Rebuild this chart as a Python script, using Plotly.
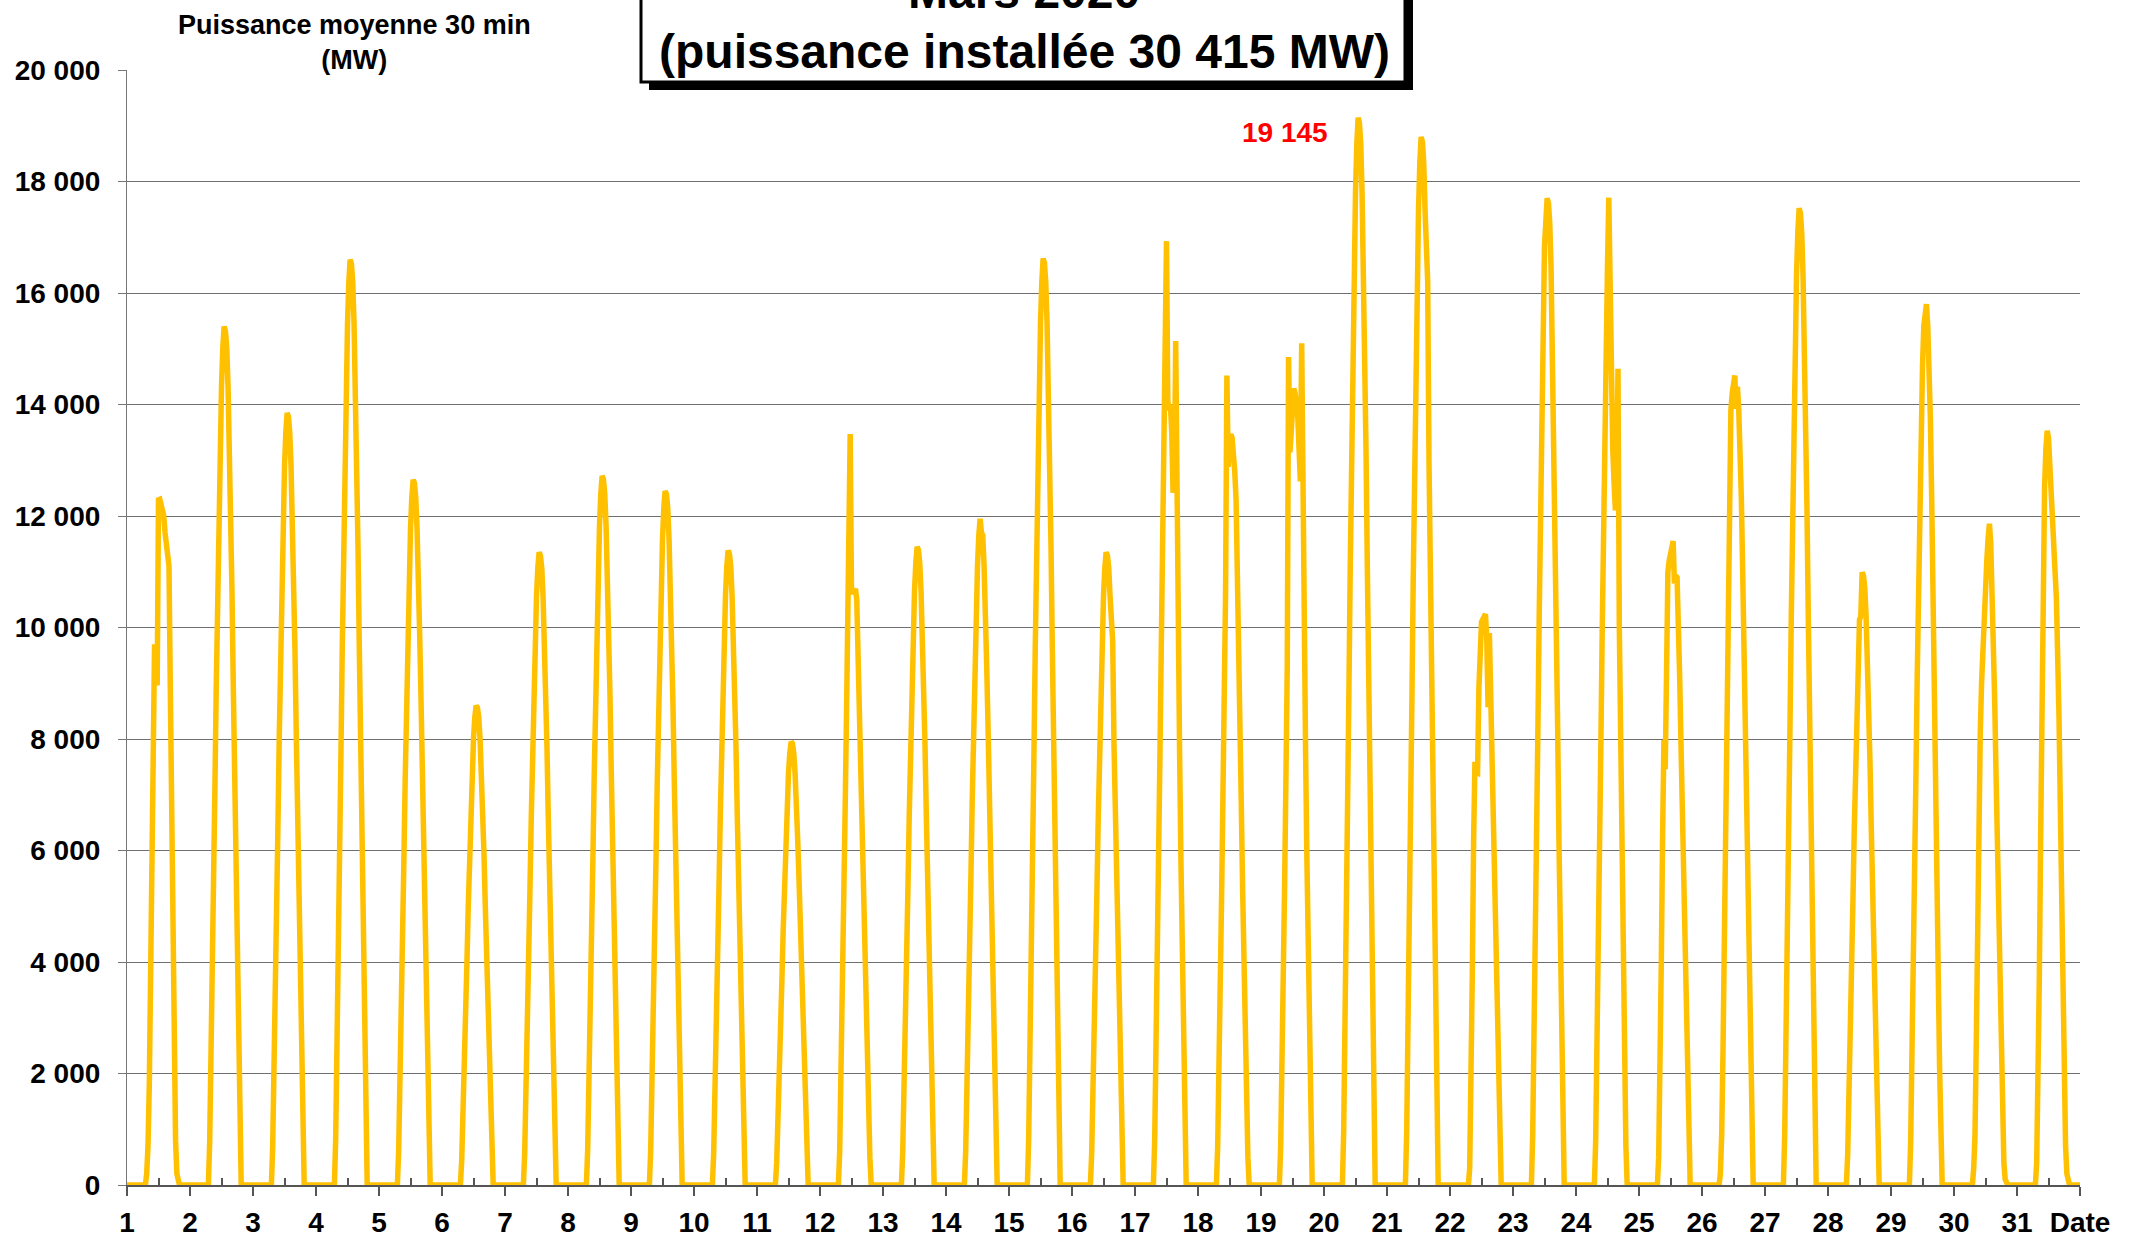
import plotly.graph_objects as go

# ---------------- data (MW, 30-min average) ----------------
# half-hour slots covered by the daytime lists (hour of day); all other slots are 0 (night)
SLOT_HOURS = [6.5, 7.0, 7.5, 8.0, 8.5, 9.0, 9.5, 10.0, 10.5, 11.0, 11.5, 12.0, 12.5, 13.0,
              13.5, 14.0, 14.5, 15.0, 15.5, 16.0, 16.5, 17.0, 17.5, 18.0, 18.5, 19.0, 19.5, 20.0]

d01 = [0, 0, 200, 700, 1800, 3800, 6500, 9700, 9700, 9300, 8960, 12290, 12300, 12200, 12100, 12000, 11700, 11400, 11180, 11100, 8900, 6300, 3900, 2000, 800, 200, 0, 0]
d02 = [0, 0, 770, 2080, 3700, 5390, 7160, 8930, 10630, 12010, 13400, 14320, 15020, 15400, 15320, 15020, 14320, 13400, 12010, 10630, 8930, 7160, 5390, 3700, 2080, 770, 0, 0]
d03 = [0, 0, 690, 1870, 3320, 4850, 6440, 8030, 9560, 10800, 12050, 12880, 13500, 13850, 13780, 13500, 12880, 12050, 10800, 9560, 8030, 6440, 4850, 3320, 1870, 690, 0, 0]
d04 = [0, 0, 830, 2240, 3980, 5810, 7720, 9630, 11450, 12950, 14440, 15440, 16190, 16600, 16520, 16190, 15440, 14440, 12950, 11450, 9630, 7720, 5810, 3980, 2240, 830, 0, 0]
d05 = [0, 0, 630, 1710, 3040, 4430, 5880, 7340, 8730, 9870, 11010, 11760, 12330, 12650, 12590, 12330, 11760, 11010, 9870, 8730, 7340, 5880, 4430, 3040, 1710, 630, 0, 0]
d06 = [0, 0, 430, 1160, 2060, 3010, 4000, 4990, 5930, 6710, 7480, 8000, 8390, 8600, 8560, 8390, 8000, 7480, 6710, 5930, 4990, 4000, 3010, 2060, 1160, 430, 0, 0]
d07 = [0, 0, 570, 1530, 2720, 3970, 5280, 6580, 7830, 8850, 9870, 10560, 11070, 11350, 11290, 11070, 10560, 9870, 8850, 7830, 6580, 5280, 3970, 2720, 1530, 570, 0, 0]
d08 = [0, 0, 640, 1720, 3050, 4450, 5910, 7380, 8780, 9920, 11070, 11830, 12400, 12720, 12660, 12400, 11830, 11070, 9920, 8780, 7380, 5910, 4450, 3050, 1720, 640, 0, 0]
d09 = [0, 0, 620, 1680, 2990, 4360, 5790, 7220, 8590, 9710, 10830, 11580, 12140, 12450, 12390, 12140, 11580, 10830, 9710, 8590, 7220, 5790, 4360, 2990, 1680, 620, 0, 0]
d10 = [0, 0, 570, 1540, 2730, 3980, 5290, 6600, 7850, 8880, 9900, 10580, 11100, 11380, 11320, 11100, 10580, 9900, 8880, 7850, 6600, 5290, 3980, 2730, 1540, 570, 0, 0]
d11 = [0, 0, 400, 1070, 1910, 2780, 3700, 4610, 5490, 6200, 6920, 7390, 7750, 7950, 7920, 7750, 7390, 6920, 6200, 5490, 4610, 3700, 2780, 1910, 1070, 400, 0, 0]
d12 = [0, 0, 600, 1800, 3300, 4900, 6500, 8100, 9700, 11200, 13470, 10600, 10700, 10600, 10700, 10500, 9420, 9300, 8300, 7300, 6100, 4900, 3700, 2500, 1400, 500, 0, 0]
d13 = [0, 0, 570, 1550, 2750, 4010, 5320, 6640, 7900, 8930, 9960, 10650, 11160, 11450, 11390, 11160, 10650, 9960, 8930, 7900, 6640, 5320, 4010, 2750, 1550, 570, 0, 0]
d14 = [0, 0, 600, 1610, 2870, 4180, 5560, 6930, 8250, 9320, 10400, 11110, 11650, 11950, 11700, 11650, 11110, 10400, 9320, 8250, 6930, 5560, 4180, 2870, 1610, 600, 0, 0]
d15 = [0, 0, 830, 2240, 3990, 5820, 7730, 9640, 11470, 12960, 14460, 15460, 16200, 16620, 16540, 16200, 15460, 14460, 12960, 11470, 9640, 7730, 5820, 3990, 2240, 830, 0, 0]
d16 = [0, 0, 570, 1530, 2720, 3970, 5280, 6580, 7830, 8850, 9870, 10560, 11070, 11350, 11290, 11070, 10560, 9800, 9750, 7900, 6580, 5280, 3970, 2720, 1530, 570, 0, 0]
d17 = [0, 0, 800, 2200, 4000, 5800, 7700, 9600, 11400, 12900, 14400, 16930, 14060, 13900, 14000, 13500, 12420, 12500, 15140, 11500, 9600, 7700, 5800, 4000, 2200, 800, 0, 0]
d18 = [0, 0, 700, 1900, 3500, 5200, 7000, 8800, 10600, 14520, 12880, 13300, 13470, 13400, 13200, 12800, 12300, 11200, 9800, 8300, 6800, 5300, 3900, 2600, 1400, 500, 0, 0]
d19 = [0, 0, 700, 2000, 3600, 5400, 7300, 9300, 14850, 13140, 13500, 14100, 14290, 14200, 14060, 13800, 13200, 12620, 15100, 11500, 9700, 7700, 5800, 4000, 2200, 800, 0, 0]
d20 = [0, 0, 960, 2580, 4590, 6700, 8900, 11100, 13210, 14930, 16660, 17800, 18670, 19145, 19050, 18670, 17800, 16660, 14930, 13210, 11100, 8900, 6700, 4590, 2580, 960, 0, 0]
d21 = [0, 0, 940, 2540, 4510, 6580, 8740, 10900, 12970, 14660, 16360, 17480, 18330, 18800, 18710, 18330, 17480, 16300, 16200, 12970, 10900, 8740, 6580, 4510, 2540, 940, 0, 0]
d22 = [0, 0, 300, 1500, 3800, 6200, 7590, 7400, 7390, 8900, 10000, 10100, 10150, 10200, 10240, 9800, 8570, 9900, 8800, 7800, 6600, 5300, 4000, 2700, 1500, 600, 0, 0]
d23 = [0, 0, 890, 2390, 4250, 6200, 8230, 10270, 12210, 13810, 15400, 16850, 17260, 17700, 17610, 17260, 16460, 15000, 13810, 12210, 10270, 8230, 6200, 4250, 2390, 890, 0, 0]
d24 = [0, 0, 800, 2300, 4100, 6000, 8000, 10000, 12000, 14000, 16010, 16500, 17710, 15500, 13650, 13200, 12600, 12100, 12400, 14640, 10000, 7900, 5800, 3800, 2000, 700, 0, 0]
d25 = [0, 0, 500, 1800, 4000, 6300, 7980, 7460, 9500, 10990, 11200, 11300, 11400, 11550, 10790, 10920, 10900, 10200, 9100, 7900, 6600, 5200, 3900, 2600, 1400, 500, 0, 0]
d26 = [0, 200, 900, 2400, 4300, 6300, 8300, 10300, 13790, 13900, 14200, 14450, 14520, 13920, 14320, 13900, 13200, 12300, 11000, 9600, 8000, 6300, 4600, 3000, 1600, 600, 0, 0]
d27 = [0, 0, 880, 2370, 4200, 6130, 8150, 10160, 12090, 13670, 15240, 16290, 17080, 17520, 17430, 17080, 16290, 15240, 13670, 12090, 10160, 8150, 6130, 4200, 2370, 880, 0, 0]
d28 = [0, 0, 550, 1480, 2640, 3850, 5110, 6370, 7580, 8570, 9560, 10140, 10200, 10990, 10930, 10720, 10220, 9560, 8570, 7580, 6370, 5110, 3850, 2640, 1480, 550, 0, 0]
d29 = [0, 0, 790, 2130, 3790, 5530, 7350, 9160, 10900, 12320, 13750, 14690, 15410, 15780, 15800, 15410, 14690, 13750, 12320, 10900, 9160, 7350, 5530, 3790, 2130, 790, 0, 0]
d30 = [0, 0, 300, 900, 2600, 4800, 6700, 8100, 9000, 9700, 10200, 10700, 11200, 11600, 11860, 11500, 10800, 9900, 8700, 7400, 6000, 4600, 3300, 2100, 1100, 400, 100, 0]
d31 = [0, 0, 400, 1600, 3700, 6200, 8800, 11000, 12500, 13200, 13530, 13400, 13000, 12500, 12000, 11500, 11000, 10530, 9700, 8400, 6800, 5000, 3300, 1800, 700, 200, 0, 0]

DAYS = list(range(1, 32))
DAILY = [d01, d02, d03, d04, d05, d06, d07, d08, d09, d10, d11, d12, d13, d14, d15, d16,
         d17, d18, d19, d20, d21, d22, d23, d24, d25, d26, d27, d28, d29, d30, d31]

X_TICK_VALS = list(range(1, 33))
X_TICK_TEXT = [str(d) for d in DAYS] + ["Date"]
Y_TICK_VALS = [0, 2000, 4000, 6000, 8000, 10000, 12000, 14000, 16000, 18000, 20000]
Y_TICK_TEXT = ["0", "2 000", "4 000", "6 000", "8 000", "10 000", "12 000", "14 000",
               "16 000", "18 000", "20 000"]

TITLE_LINE1 = "Mars 2020"
TITLE_LINE2 = "(puissance installée 30 415 MW)"
Y_TITLE = "Puissance moyenne 30 min<br>(MW)"
MAX_LABEL = "19 145"

# ---------------- build series (48 half-hours per day) ----------------
xs, ys = [], []
for day, vals in zip(DAYS, DAILY):
    prof = dict(zip(SLOT_HOURS, vals))
    for k in range(48):
        h = k / 2
        xs.append(day + h / 24)
        ys.append(prof.get(h, 0))
xs.append(32)
ys.append(0)

# ---------------- layout helpers ----------------
W, H = 2137, 1238
L, R, T, B = 127, 57, 70, 53
PW, PH = W - L - R, H - T - B


def px(xp):
    return (xp - L) / PW


def py(yp):
    return (H - B - yp) / PH


FONT = "Liberation Sans, Arial, sans-serif"

fig = go.Figure()
fig.add_trace(go.Scatter(x=xs, y=ys, mode="lines",
                         line=dict(color="#FFC000", width=5.5),
                         cliponaxis=False, hoverinfo="skip"))

fig.update_layout(
    width=W, height=H,
    margin=dict(l=L, r=R, t=T, b=B, autoexpand=False),
    plot_bgcolor="white", paper_bgcolor="white",
    showlegend=False,
    font=dict(family=FONT, size=28, color="black", weight="bold"),
)

fig.update_xaxes(
    range=[1, 32], tickmode="array", tickvals=X_TICK_VALS, ticktext=X_TICK_TEXT,
    automargin=False,
    ticks="outside", ticklen=9, tickwidth=1.5, tickcolor="#555555",
    showline=True, linecolor="#555555", linewidth=1.5,
    showgrid=False, zeroline=False,
    tickfont=dict(family=FONT, size=28, color="black", weight="bold"),
    ticklabelstandoff=3,
    minor=dict(tick0=1.5, dtick=1, ticks="inside", ticklen=7, tickwidth=1.5,
               tickcolor="#555555", showgrid=False),
)
fig.update_yaxes(
    range=[0, 20000], tickmode="array", tickvals=Y_TICK_VALS, ticktext=Y_TICK_TEXT,
    automargin=False,
    ticks="outside", ticklen=8, tickwidth=1.2, tickcolor="#777777",
    showline=True, linecolor="#777777", linewidth=1.2,
    showgrid=True, gridcolor="#6f6f6f", gridwidth=1.2, zeroline=False,
    tickfont=dict(family=FONT, size=28, color="black", weight="bold"),
    ticklabelstandoff=12,
)

shapes = [
    # white patch behind the y-axis title (hides top gridline)
    dict(type="rect", xref="paper", yref="paper", x0=px(154), x1=px(552), y0=py(80), y1=py(20),
         fillcolor="white", line=dict(width=0), layer="above"),
    # title box shadow
    dict(type="rect", xref="paper", yref="paper", x0=px(649), x1=px(1413), y0=py(90), y1=py(-30),
         fillcolor="black", line=dict(width=0), layer="above"),
    # title box
    dict(type="rect", xref="paper", yref="paper", x0=px(641), x1=px(1405), y0=py(82), y1=py(-30),
         fillcolor="white", line=dict(color="black", width=3), layer="above"),
]
fig.update_layout(shapes=shapes)

annotations = [
    dict(text=TITLE_LINE1, xref="paper", yref="paper", x=px(1024), y=py(-8),
         xanchor="center", yanchor="middle", showarrow=False,
         font=dict(family=FONT, size=48, color="black", weight="bold")),
    dict(text=TITLE_LINE2, xref="paper", yref="paper", x=px(1024), y=py(52),
         xanchor="center", yanchor="middle", showarrow=False,
         font=dict(family=FONT, size=48, color="black", weight="bold")),
    dict(text=Y_TITLE, xref="paper", yref="paper", x=px(354), y=py(42),
         xanchor="center", yanchor="middle", showarrow=False,
         font=dict(family=FONT, size=27, color="black", weight="bold")),
    dict(text=MAX_LABEL, xref="paper", yref="paper", x=px(1285), y=py(132),
         xanchor="center", yanchor="middle", showarrow=False,
         font=dict(family=FONT, size=28, color="#FF0000", weight="bold")),
]
fig.update_layout(annotations=annotations)

fig.write_html("out.html", config={"displayModeBar": False},
               post_script="document.body.style.margin='0';document.body.style.overflow='hidden';")
